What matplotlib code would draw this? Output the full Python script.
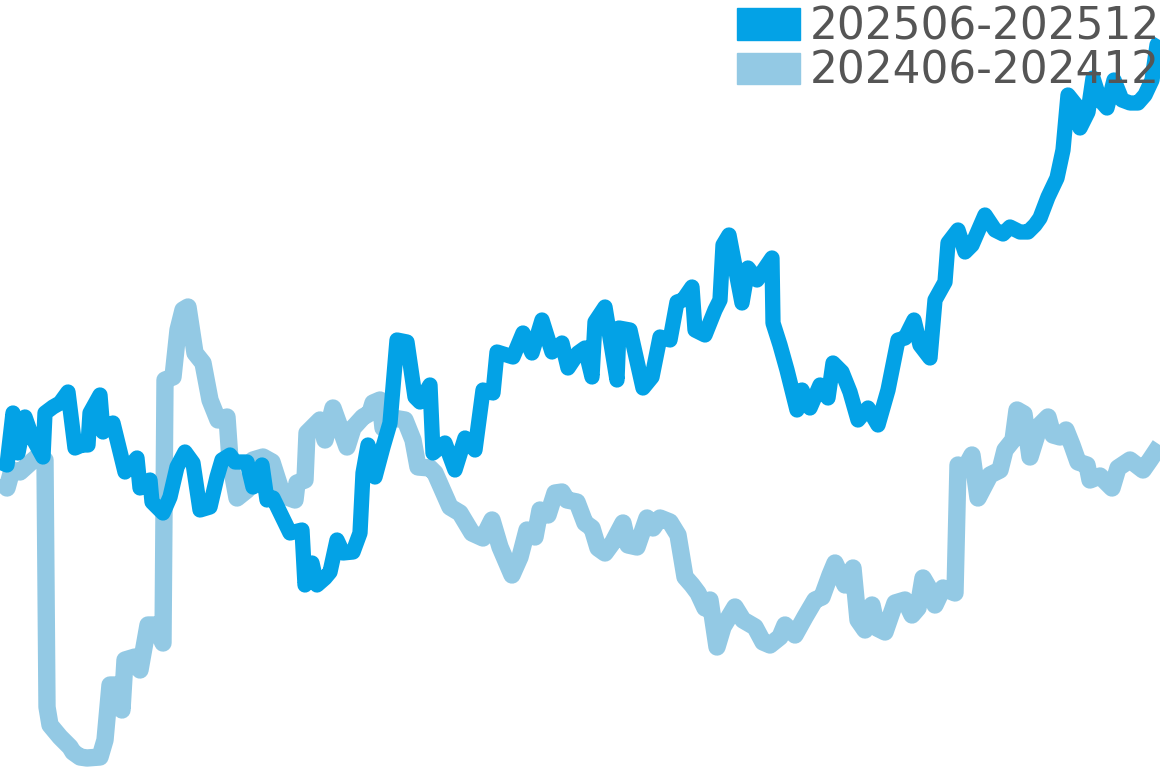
import matplotlib
matplotlib.use("Agg")
import matplotlib.pyplot as plt
from matplotlib.patches import Patch

# 两条曲线（读图估计，纵轴向下为正）
x_2025 = [0, 7, 13, 18, 25, 32, 43, 45, 53, 60, 68, 75, 82, 88, 90, 100, 103, 113, 125, 137,
          140, 150, 152, 163, 170, 177, 185, 193, 200, 210, 217, 222, 230, 235, 247, 253, 262, 267, 273, 290,
          302, 305, 312, 317, 325, 330, 337, 343, 353, 360, 363, 368, 375, 383, 390, 397, 407, 415, 420, 430,
          433, 445, 455, 465, 475, 483, 493, 497, 513, 523, 532, 542, 552, 562, 568, 578, 585, 592, 595, 605,
          617, 619, 630, 643, 652, 660, 670, 677, 683, 692, 695, 705, 715, 720, 723, 729, 742, 748, 757, 772,
          773, 780, 787, 797, 802, 810, 820, 828, 833, 842, 850, 858, 868, 878, 888, 898, 905, 914, 920, 930,
          935, 945, 948, 958, 965, 972, 985, 995, 1003, 1010, 1020, 1028, 1035, 1040, 1048, 1057, 1063, 1068, 1076, 1080,
          1088, 1093, 1100, 1107, 1114, 1122, 1130, 1138, 1145, 1152, 1157, 1160]
y_2025 = [462, 465, 413, 453, 417, 437, 457, 413, 407, 403, 392, 448, 445, 445, 413, 395, 432, 423, 472, 458,
          488, 480, 502, 513, 497, 467, 452, 463, 510, 507, 477, 460, 455, 462, 462, 487, 465, 500, 498, 533,
          530, 585, 563, 585, 578, 572, 540, 553, 552, 533, 473, 445, 477, 447, 423, 340, 342, 397, 402, 385,
          453, 443, 470, 438, 450, 390, 393, 352, 357, 333, 353, 320, 352, 343, 368, 353, 348, 377, 322, 307,
          380, 328, 330, 388, 377, 337, 340, 302, 300, 287, 330, 335, 310, 300, 245, 235, 303, 268, 280, 258,
          323, 345, 370, 410, 390, 408, 385, 398, 363, 372, 392, 420, 408, 425, 390, 340, 338, 320, 345, 358,
          300, 282, 243, 230, 252, 245, 215, 230, 234, 227, 232, 232, 225, 218, 197, 178, 150, 95, 105, 128,
          112, 78, 100, 108, 80, 100, 103, 103, 95, 80, 45, 40]

x_2024 = [0, 7, 12, 20, 30, 37, 45, 47, 50, 60, 70, 73, 80, 87, 100, 105, 110, 118, 122, 125,
          135, 140, 148, 155, 163, 165, 173, 178, 183, 188, 195, 203, 210, 218, 227, 230, 237, 247, 253, 263,
          272, 280, 287, 295, 297, 305, 307, 320, 325, 333, 347, 353, 363, 370, 373, 380, 383, 393, 405, 413,
          418, 430, 435, 450, 460, 472, 483, 492, 500, 512, 520, 527, 535, 540, 548, 555, 562, 567, 577, 585,
          592, 598, 605, 613, 623, 628, 637, 647, 653, 660, 670, 678, 685, 692, 698, 705, 710, 717, 723, 735,
          743, 755, 763, 770, 780, 785, 795, 805, 815, 822, 830, 835, 845, 853, 858, 865, 872, 877, 885, 895,
          905, 912, 918, 923, 930, 935, 943, 955, 958, 965, 972, 978, 990, 1000, 1005, 1013, 1017, 1024, 1030, 1040,
          1048, 1053, 1060, 1066, 1072, 1078, 1087, 1090, 1100, 1112, 1118, 1130, 1143, 1150, 1160]
y_2024 = [480, 488, 470, 472, 463, 457, 460, 707, 725, 737, 747, 752, 757, 758, 757, 740, 685, 685, 710, 660,
          657, 670, 625, 625, 643, 380, 377, 330, 310, 307, 353, 363, 400, 420, 417, 460, 498, 490, 460, 457,
          462, 487, 497, 500, 483, 480, 433, 420, 440, 408, 447, 428, 417, 413, 403, 400, 428, 418, 420, 440,
          467, 468, 473, 507, 513, 533, 538, 520, 547, 575, 557, 530, 537, 510, 515, 493, 492, 500, 502, 523,
          528, 548, 553, 542, 523, 545, 547, 518, 528, 518, 522, 535, 577, 585, 593, 608, 600, 647, 627, 607,
          620, 627, 642, 645, 637, 625, 635, 617, 600, 597, 575, 563, 585, 568, 620, 630, 605, 628, 632, 603,
          600, 615, 608, 578, 590, 605, 588, 593, 465, 468, 455, 498, 475, 470, 450, 440, 410, 414, 457, 425,
          417, 435, 437, 430, 445, 462, 465, 480, 476, 488, 468, 460, 470, 460, 445]

labels = ["202506-202512", "202406-202412"]
c_dark = "#03a2e6"
c_light = "#93c9e4"

fig = plt.figure(figsize=(11.6, 7.68), dpi=100)
ax = fig.add_axes([0, 0, 1, 1])
ax.plot(x_2024, y_2024, color=c_light, lw=12.5, solid_joinstyle="round", solid_capstyle="butt")
ax.plot(x_2025, y_2025, color=c_dark, lw=11, solid_joinstyle="round", solid_capstyle="butt")
ax.set_xlim(0, 1160)
ax.set_ylim(768, 0)
ax.axis("off")

handles = [Patch(color=c_dark), Patch(color=c_light)]
leg = ax.legend(handles, labels, loc="upper left", bbox_to_anchor=(737 / 1160, 1 - 5 / 768),
                frameon=False, borderpad=0, borderaxespad=0, fontsize=31.5,
                handlelength=1.45, handleheight=0.74, handletextpad=0.22, labelspacing=0.04)
for t in leg.get_texts():
    t.set_color("#555555")

fig.savefig("out.png", dpi=100)
